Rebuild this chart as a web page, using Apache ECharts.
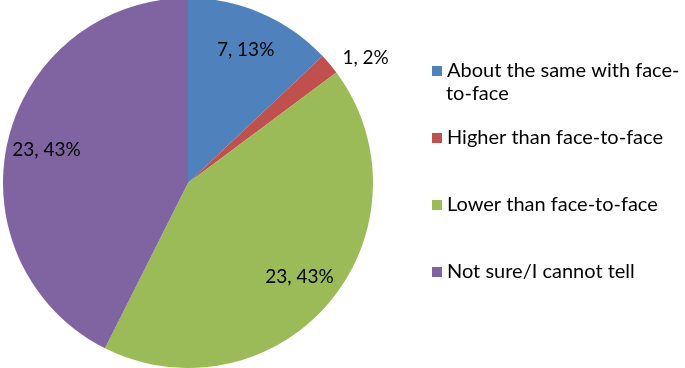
<!DOCTYPE html>
<html>
<head>
<meta charset="utf-8">
<script src="https://cdn.jsdelivr.net/npm/echarts@6/dist/echarts.min.js"></script>
<style>html,body{margin:0;padding:0;background:#fff;}#c{width:685px;height:368px;}</style>
</head>
<body>
<div id="c"></div>
<script>
const categories = ['About the same with face-to-face', 'Higher than face-to-face', 'Lower than face-to-face', 'Not sure/I cannot tell'];
const counts = [7, 1, 23, 23];
const percents = [13, 2, 43, 43];
const colors = ['#4F81BD', '#C0504D', '#9BBB59', '#8064A2'];

const FONT = 'Lato';
const chart = echarts.init(document.getElementById('c'));
const data = categories.map((n, i) => ({ name: n, value: counts[i] }));

chart.setOption({
  animation: false,
  color: colors,
  legend: {
    orient: 'vertical',
    left: 427,
    top: 55,
    itemWidth: 10,
    itemHeight: 10,
    itemGap: 45,
    icon: 'rect',
    selectedMode: false,
    data: categories,
    formatter: n => n === categories[0] ? 'About the same with face-' : n,
    textStyle: { fontFamily: FONT, fontSize: 20, color: '#000', lineHeight: 22 }
  },
  graphic: [{
    type: 'text', left: 446, top: 84,
    style: { text: 'to-face', font: '20px ' + FONT, fill: '#000' }
  }],
  series: [{
    type: 'pie',
    center: [188, 183],
    radius: 185,
    startAngle: 90,
    clockwise: true,
    data: data,
    label: { show: false },
    labelLine: { show: false },
    emphasis: { disabled: true },
    silent: true
  }, {
    type: 'pie',
    center: [188, 183],
    radius: [100, 185],
    startAngle: 90,
    clockwise: true,
    silent: true,
    emphasis: { disabled: true },
    itemStyle: { color: 'rgba(0,0,0,0)' },
    data: data.map((d, i) => ({
      name: d.name, value: d.value,
      label: i === 1 ? { position: 'outside' } : { position: 'inside' }
    })),
    label: {
      show: true,
      fontFamily: FONT, fontSize: 19, color: '#000',
      formatter: p => counts[p.dataIndex] + ', ' + percents[p.dataIndex] + '%'
    },
    labelLine: { show: false, length: 10, length2: 0 }
  }]
});
</script>
</body>
</html>
